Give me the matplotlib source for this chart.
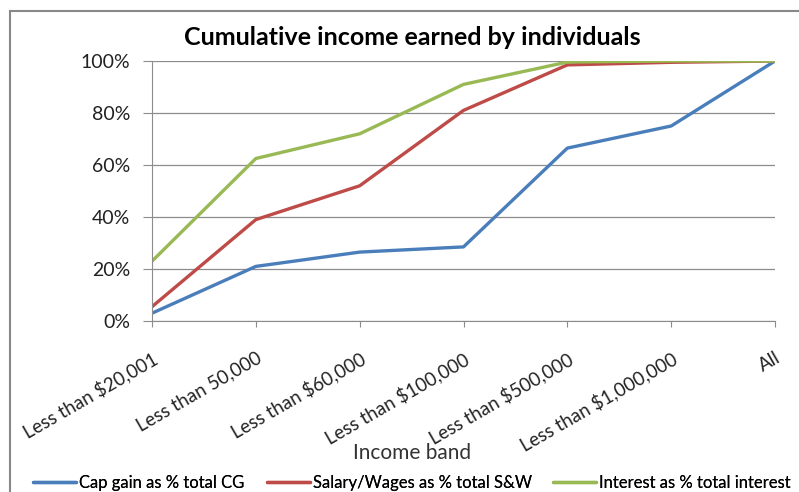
import matplotlib
matplotlib.use("Agg")
import matplotlib.pyplot as plt
from matplotlib.ticker import PercentFormatter
from matplotlib.patches import Rectangle

plt.rcParams['font.family'] = ['Lato', 'DejaVu Sans']

bands = ["Less than $20,001", "Less than 50,000", "Less than $60,000",
         "Less than $100,000", "Less than $500,000", "Less than $1,000,000", "All"]
cap_gain = [3, 21, 26.5, 28.5, 66.5, 75, 100]
salary = [5.5, 39, 52, 81, 98.5, 99.5, 100]
interest = [23, 62.5, 72, 91, 99.6, 100, 100]

series = [
    (cap_gain, "Cap gain as % total CG", "#4A7EBB"),
    (salary, "Salary/Wages as % total S&W", "#BE4B48"),
    (interest, "Interest as % total interest", "#98B954"),
]

W, H = 799, 492
fig = plt.figure(figsize=(W / 100, H / 100), dpi=100)
ax = fig.add_axes([152 / W, 1 - 321 / H, 623 / W, 260 / H])

x = list(range(len(bands)))
handles = []
for vals, name, col in series:
    h, = ax.plot(x, vals, color=col, lw=2.4, label=name, solid_capstyle='round')
    handles.append(h)

ax.set_xlim(0, len(bands) - 1)
ax.set_ylim(0, 100)
ax.set_yticks(range(0, 101, 20))
ax.yaxis.set_major_formatter(PercentFormatter(decimals=0))
ax.grid(axis='y', color='#8c8c8c', lw=0.9)
ax.set_axisbelow(True)
for s in ['top', 'right']:
    ax.spines[s].set_visible(False)
ax.spines['left'].set_color('#8c8c8c')
ax.spines['bottom'].set_color('#8c8c8c')
ax.tick_params(axis='y', length=6.5, color='#8c8c8c', labelsize=14, pad=9,
               labelcolor='#222222')
ax.tick_params(axis='x', length=4.5, color='#8c8c8c', labelsize=13.5, pad=16,
               labelcolor='#222222')
ax.set_xticks(x)
ax.set_xticklabels(bands, rotation=30, ha='right', va='top', rotation_mode='anchor')

ax.set_xlabel("Income band", fontsize=15, color='#333333')
ax.xaxis.set_label_coords((412 - 152) / 623, (321 - 453) / 260)
ax.xaxis.label.set_va('center')

fig.text(412 / W, 1 - 45 / H, "Cumulative income earned by individuals",
         ha='center', va='baseline', fontsize=18, fontweight='bold')

# legend entries sit at their own spots along the bottom, as in the Excel chart
for h, lx in zip(handles, [33, 267, 553]):
    leg = fig.legend(handles=[h], loc='center left', bbox_to_anchor=(lx / W, 1 - 483 / H),
                     frameon=False, fontsize=12, handlelength=2.6, handletextpad=0.15,
                     borderpad=0, borderaxespad=0)
    fig.add_artist(leg)

# chart border, as on the Excel chart area
fig.patches.append(Rectangle((10 / W, -0.05), 1.2, 1.05 - 11 / H, transform=fig.transFigure,
                             fill=False, edgecolor='#888888', lw=1.5))

fig.savefig("out.png", dpi=100)
